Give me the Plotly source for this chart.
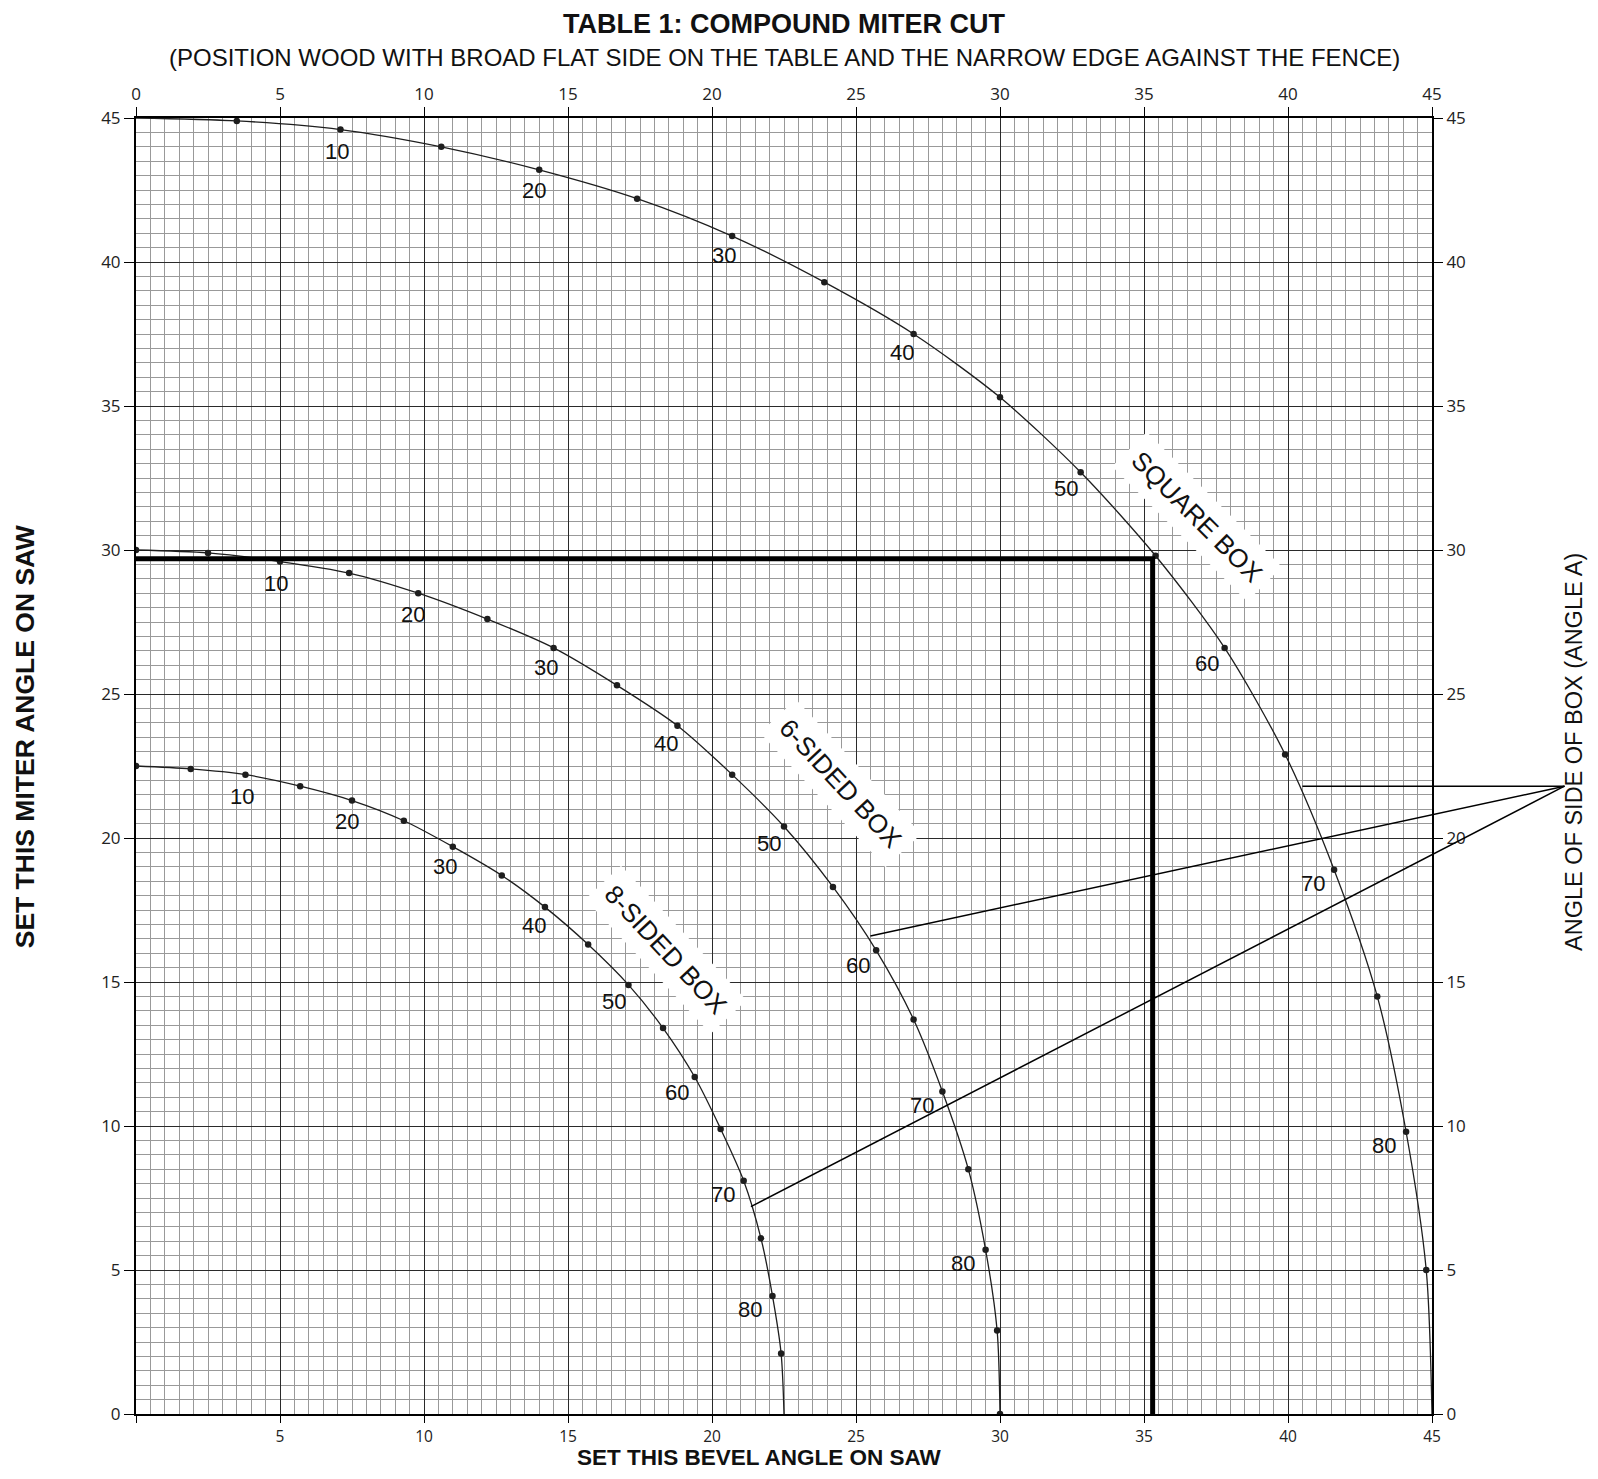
import plotly.graph_objects as go
import math

# ---------------- data ----------------
side_angles = [0, 5, 10, 15, 20, 25, 30, 35, 40, 45, 50, 55, 60, 65, 70, 75, 80, 85, 90]

square_bevel = [0.0, 3.5, 7.1, 10.6, 14.0, 17.4, 20.7, 23.9, 27.0, 30.0, 32.8, 35.4, 37.8, 39.9, 41.6, 43.1, 44.1, 44.8, 45.0]
square_miter = [45.0, 44.9, 44.6, 44.0, 43.2, 42.2, 40.9, 39.3, 37.5, 35.3, 32.7, 29.8, 26.6, 22.9, 18.9, 14.5, 9.8, 5.0, 0.0]

hex_bevel = [0.0, 2.5, 5.0, 7.4, 9.8, 12.2, 14.5, 16.7, 18.8, 20.7, 22.5, 24.2, 25.7, 27.0, 28.0, 28.9, 29.5, 29.9, 30.0]
hex_miter = [30.0, 29.9, 29.6, 29.2, 28.5, 27.6, 26.6, 25.3, 23.9, 22.2, 20.4, 18.3, 16.1, 13.7, 11.2, 8.5, 5.7, 2.9, 0.0]

oct_bevel = [0.0, 1.9, 3.8, 5.7, 7.5, 9.3, 11.0, 12.7, 14.2, 15.7, 17.1, 18.3, 19.4, 20.3, 21.1, 21.7, 22.1, 22.4, 22.5]
oct_miter = [22.5, 22.4, 22.2, 21.8, 21.3, 20.6, 19.7, 18.7, 17.6, 16.3, 14.9, 13.4, 11.7, 9.9, 8.1, 6.1, 4.1, 2.1, 0.0]

labelled_angles = [10, 20, 30, 40, 50, 60, 70, 80]

example_bevel = 35.3
example_miter = 29.7

# leader lines: common apex and the curve points they touch (data units)
leader_apex = (49.6, 21.8)
leader_targets = [(40.5, 21.8), (25.5, 16.6), (21.35, 7.2)]

axis_ticks = [0, 5, 10, 15, 20, 25, 30, 35, 40, 45]
bottom_ticktext = ["", "5", "10", "15", "20", "25", "30", "35", "40", "45"]
full_ticktext = [str(v) for v in axis_ticks]

title_text = "TABLE 1: COMPOUND MITER CUT"
subtitle_text = "(POSITION WOOD WITH BROAD FLAT SIDE ON THE TABLE AND THE NARROW EDGE AGAINST THE FENCE)"
x_title = "SET THIS BEVEL ANGLE ON SAW"
y_title = "SET THIS MITER ANGLE ON SAW"
y2_title = "ANGLE OF SIDE OF BOX (ANGLE A)"

# ---------------- figure ----------------
LABEL_FONT = "Liberation Sans, Arial, sans-serif"
TICK_FONT = "Open Sans, sans-serif"

fig = go.Figure()

series = [
    ("SQUARE BOX", square_bevel, square_miter, {0, 90}),
    ("6-SIDED BOX", hex_bevel, hex_miter, set()),
    ("8-SIDED BOX", oct_bevel, oct_miter, {90}),
]

for name, bx, my, no_dot in series:
    dot_colors = ["rgba(0,0,0,0)" if a in no_dot else "#1e1e1e" for a in side_angles]
    fig.add_trace(go.Scatter(
        x=bx, y=my, mode="lines+markers", name=name,
        line=dict(color="#1e1e1e", width=1.3, shape="spline", smoothing=0.8),
        marker=dict(color=dot_colors, size=6.5),
        hoverinfo="skip",
    ))

# example thick line
fig.add_trace(go.Scatter(
    x=[0, example_bevel, example_bevel], y=[example_miter, example_miter, 0],
    mode="lines", line=dict(color="black", width=5), hoverinfo="skip",
))

# dummy trace for overlay (top / right) axes
fig.add_trace(go.Scatter(x=[None], y=[None], xaxis="x2", yaxis="y2",
                         hoverinfo="skip", showlegend=False))

annotations = []
# angle labels on curves
for name, bx, my, _ in series:
    for a in labelled_angles:
        i = side_angles.index(a)
        s2 = math.sin(math.radians(a)) ** 2
        annotations.append(dict(
            x=bx[i], y=my[i], xref="x", yref="y", text=str(a), showarrow=False,
            xshift=-(3 + 20 * s2), yshift=-(22 - 9 * s2),
            font=dict(family=LABEL_FONT, size=22, color="#111"),
        ))

# box names
box_labels = [
    ("SQUARE BOX", 36.85, 31.15, 45),
    ("6-SIDED BOX", 24.45, 21.9, 47),
    ("8-SIDED BOX", 18.4, 16.1, 47),
]
for txt, x, y, ang in box_labels:
    annotations.append(dict(
        x=x, y=y, xref="x", yref="y", text=txt, showarrow=False, textangle=ang,
        bgcolor="white", borderpad=9,
        font=dict(family=LABEL_FONT, size=26, color="#111"),
    ))

# titles
def paper_text(x, y, text, size, angle=0):
    return dict(x=x, y=y, xref="paper", yref="paper", text=text, showarrow=False,
                xanchor="center", yanchor="middle", textangle=angle,
                font=dict(family=LABEL_FONT, size=size, color="#111"))

annotations += [
    paper_text(0.5, 1.0725, "<b>" + title_text + "</b>", 27),
    paper_text(0.5, 1.047, subtitle_text, 24),
    paper_text(0.481, -0.0335, "<b>" + x_title + "</b>", 22.5),
    paper_text(-0.085, 0.5228, "<b>" + y_title + "</b>", 26.5, -90),
    paper_text(1.1095, 0.5108, y2_title, 23.5, -90),
]

# leader lines as paper shapes (positions derived from data units)
shapes = []
for tx, ty in leader_targets:
    shapes.append(dict(type="line", xref="paper", yref="paper",
                       x0=tx / 45.0, y0=ty / 45.0,
                       x1=leader_apex[0] / 45.0, y1=leader_apex[1] / 45.0,
                       line=dict(color="black", width=1.5), layer="above"))

base_axis = dict(
    range=[0, 45], tickmode="array", tickvals=axis_ticks,
    ticks="outside", ticklen=7, tickwidth=1, tickcolor="black",
    showgrid=True, gridcolor="#2a2a2a", gridwidth=1.2,
    minor=dict(tickmode="linear", tick0=0, dtick=0.5, showgrid=True,
               gridcolor="#999999", gridwidth=1, ticks=""),
    showline=True, linecolor="black", linewidth=2, mirror=True,
    zeroline=False, fixedrange=True,
    tickfont=dict(family=TICK_FONT, size=15.5, color="#222"),
)
overlay_axis = dict(
    range=[0, 45], tickmode="array", tickvals=axis_ticks, ticktext=full_ticktext,
    ticks="outside", ticklen=10, tickwidth=1, tickcolor="black",
    showgrid=False, showline=False, zeroline=False, fixedrange=True,
    tickfont=dict(family=TICK_FONT, size=17, color="#222"),
)

fig.update_layout(
    width=1582, height=1463,
    margin=dict(l=128, r=158, t=110, b=57),
    plot_bgcolor="white", paper_bgcolor="white",
    showlegend=False,
    xaxis=dict(base_axis, ticktext=bottom_ticktext),
    yaxis=dict(base_axis, ticktext=full_ticktext, ticklen=10,
               tickfont=dict(family=TICK_FONT, size=17, color="#222")),
    xaxis2=dict(overlay_axis, overlaying="x", side="top", anchor="y2"),
    yaxis2=dict(overlay_axis, overlaying="y", side="right", anchor="x2"),
    annotations=annotations,
    shapes=shapes,
)

fig.write_html("out.html")
